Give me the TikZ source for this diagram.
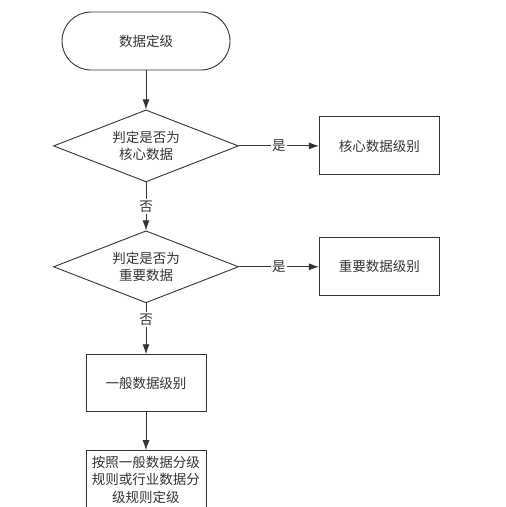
\documentclass[tikz,border=0pt]{standalone}
\usepackage{fontspec}
\newfontfamily\cjk{Noto Sans CJK SC}
\usetikzlibrary{arrows.meta,positioning,shapes.geometric}
\tikzset{
  term/.style={draw=black!80, rounded corners=29pt, minimum height=58pt, minimum width=168pt, align=center},
  decide/.style={draw=black!80, diamond, aspect=2.57, inner sep=0pt, minimum width=185pt, minimum height=72pt, align=center},
  level/.style={draw=black!80, minimum height=58pt, minimum width=120pt, align=center},
  line/.style={-{Latex[length=10pt,width=7pt]}, draw=black!80},
  lbl/.style={fill=white, inner sep=1.5pt}
}

\begin{document}
\begin{tikzpicture}[x=1pt, y=1pt, node distance=39pt and 80pt, line width=0.9pt,
  every node/.style={font=\cjk\fontsize{13.5pt}{17.5pt}\selectfont, text=black!80}]
  \useasboundingbox (0,0) rectangle (506,-507);

  \node[term] (start) at (146,-41) {数据定级};
  \node[decide, below=of start] (core) {判定是否为\\核心数据};
  \node[level, right=of core] (corelvl) {核心数据级别};

  \node[decide, below=48pt of core] (imp) {判定是否为\\重要数据};
  \node[level, right=of imp] (implvl) {重要数据级别};

  \node[level, below=51pt of imp, minimum height=57pt] (gen) {一般数据级别};
  \node[level, below=38pt of gen] (rule) {按照一般数据分级\\规则或行业数据分\\级规则定级};

  \draw[line] (start) -- (core);
  \draw[line] (core) -- node[lbl]{是} (corelvl);
  \draw[line] (core) -- node[lbl]{否} (imp);
  \draw[line] (imp) -- node[lbl]{是} (implvl);
  \draw[line] (imp) -- node[lbl, pos=0.32]{否} (gen);
  \draw[line] (gen) -- (rule);
\end{tikzpicture}
\end{document}
